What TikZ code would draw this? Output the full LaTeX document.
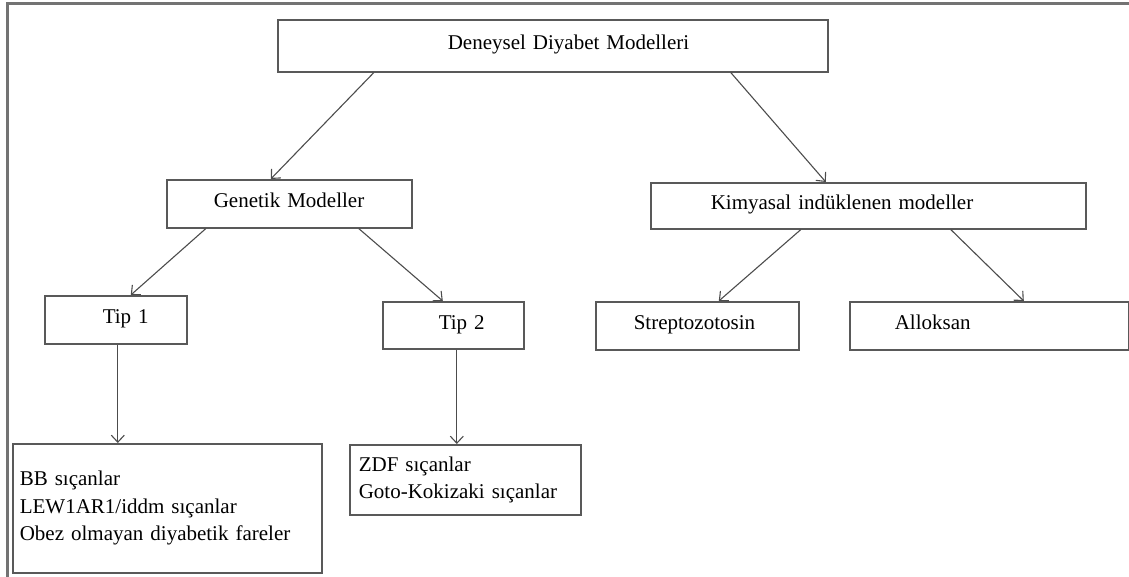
\documentclass[tikz,border=0pt]{standalone}
\usepackage{fontspec}
\setmainfont{Liberation Serif}
\usetikzlibrary{arrows.meta}

\tikzset{
    kutu/.style={
        draw=black!65,
        line width=1.6pt,
        anchor=north west,
        inner xsep=0pt,
        inner ysep=0pt,
        align=left,
        font=\fontsize{21}{27.5}\selectfont
    },
    tekkutu/.style={kutu, text height=13pt, text depth=5pt},
    ok/.style={draw=black!70, line width=1.1pt, -{Straight Barb[length=7pt,width=13pt]}},
    cerceve/.style={draw=black!55, line width=3pt}
}

\begin{document}
\begin{tikzpicture}[x=1pt,y=-1pt]
        % Page size and outer frame
        \useasboundingbox (0,0) rectangle (1129,577);
        \draw[cerceve] (7,577) -- (7,4) -- (1129,4);

        % Top level
        \node[tekkutu, text width=550pt, minimum height=52pt] (deneysel) at (277,19)
            {\hspace*{170pt}Deneysel Diyabet Modelleri};

        % Second level
        \node[tekkutu, text width=245pt, minimum height=48pt] (genetik) at (166,179)
            {\hspace*{47pt}Genetik Modeller};
        \node[tekkutu, text width=435pt, minimum height=46pt] (kimyasal) at (650,182)
            {\hspace*{60pt}Kimyasal indüklenen modeller};

        % Third level
        \node[tekkutu, text width=142pt, minimum height=48pt] (tip1) at (44,295)
            {\hspace*{58pt}Tip 1};
        \node[tekkutu, text width=141pt, minimum height=47pt] (tip2) at (382,301)
            {\hspace*{56pt}Tip 2};
        \node[tekkutu, text width=203pt, minimum height=48pt] (strepto) at (595,301)
            {\hspace*{38pt}Streptozotosin};
        \node[tekkutu, text width=279pt, minimum height=48pt] (alloksan) at (849,301)
            {\hspace*{45pt}Alloksan};

        % Lists of animals
        \node[kutu, inner xsep=7pt, text width=295pt, minimum height=129pt] (bb) at (12,443)
            {BB sıçanlar\\LEW1AR1/iddm sıçanlar\\Obez olmayan diyabetik fareler};
        \node[kutu, inner xsep=9pt, text width=213pt, minimum height=70pt] (zdf) at (349,444)
            {ZDF sıçanlar\\Goto-Kokizaki sıçanlar};

        % Connectors
        \draw[ok] ([xshift=-179pt]deneysel.south) -- ([xshift=-18.5pt]genetik.north);
        \draw[ok] ([xshift=178pt]deneysel.south) -- ([xshift=-42.5pt]kimyasal.north);
        \draw[ok] ([xshift=-83.5pt]genetik.south) -- ([xshift=15pt]tip1.north);
        \draw[ok] ([xshift=69.5pt]genetik.south) -- ([xshift=-10.5pt]tip2.north);
        \draw[ok] ([xshift=-67.5pt]kimyasal.south) -- ([xshift=21.5pt]strepto.north);
        \draw[ok] ([xshift=82.5pt]kimyasal.south) -- ([xshift=34.5pt]alloksan.north);
        \draw[ok] ([xshift=2pt]tip1.south) -- ([xshift=-49.5pt]bb.north);
        \draw[ok] ([xshift=3.5pt]tip2.south) -- ([xshift=-8.5pt]zdf.north);
\end{tikzpicture}
\end{document}
